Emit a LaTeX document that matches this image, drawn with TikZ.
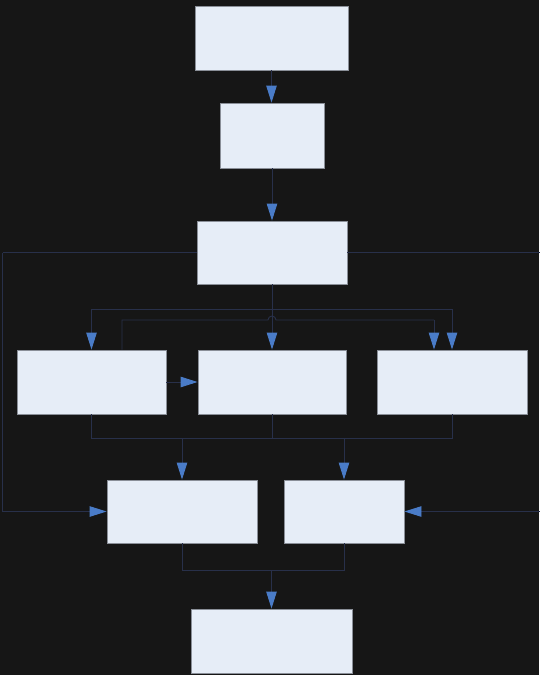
\documentclass[tikz,border=0pt]{standalone}
\usetikzlibrary{arrows.meta}
\definecolor{bg}{HTML}{161616}
\definecolor{boxfill}{HTML}{E6EDF7}
\definecolor{boxline}{HTML}{8A8F98}
\definecolor{wire}{HTML}{28304A}
\definecolor{tipc}{HTML}{4A7CC8}
\tikzset{
  blk/.style={draw=boxline, fill=boxfill, line width=0.9pt, inner sep=0pt},
  conn/.style={draw=wire, line width=0.9pt},
  arr/.style={conn, -{Triangle[length=17pt,width=10.5pt,color=tipc]}}
}
\begin{document}
\begin{tikzpicture}[x=1pt,y=-1pt]
\fill[bg] (0,0) rectangle (539,675);
\useasboundingbox (0,0) rectangle (539,675);
% boxes
\node[blk, minimum width=153pt, minimum height=64pt] (A) at (271.5,38) {};
\node[blk, minimum width=104pt, minimum height=65pt] (B) at (272,135.5) {};
\node[blk, minimum width=150pt, minimum height=63pt] (C) at (272,252.5) {};
\node[blk, minimum width=149pt, minimum height=64pt] (D) at (91.5,382) {};
\node[blk, minimum width=148pt, minimum height=64pt] (E) at (272,382) {};
\node[blk, minimum width=150pt, minimum height=64pt] (F) at (452,382) {};
\node[blk, minimum width=150pt, minimum height=63pt] (G) at (182,511.5) {};
\node[blk, minimum width=120pt, minimum height=63pt] (H) at (344,511.5) {};
\node[blk, minimum width=161pt, minimum height=64pt] (I) at (271.5,641) {};
% coordinates
\coordinate (lx) at (2.5,252.5);
\coordinate (rx) at (540,252.5);
\coordinate (b1) at (272,309);
\coordinate (b1l) at (91.5,309);
\coordinate (b1r) at (452,309);
\coordinate (hopl) at (268,320);
\coordinate (b2r) at (434,320);
\coordinate (b3l) at (91.5,438);
\coordinate (b3r) at (452,438);
\coordinate (b3g) at (182,438);
\coordinate (b3h) at (344,438);
\coordinate (b4l) at (182,570);
\coordinate (b4r) at (344,570);
\coordinate (b4m) at (271.5,570);
% top chain
\draw[arr] (A.south) -- (A.south |- B.north);
\draw[arr] (B.south) -- (B.south |- C.north);
% side feeds
\draw[conn] (C.west) -- (lx);
\draw[arr] (lx) |- (G.west);
\draw[conn] (C.east) -- (rx);
\draw[arr] (rx) |- (H.east);
% fan out from C
\draw[conn] (C.south) -- (b1);
\draw[conn] (b1l) -- (b1r);
\draw[arr] (b1l) -- (D.north);
\draw[arr] (b1) -- (E.north);
\draw[arr] (b1r) -- (F.north);
% D to F
\draw[conn] ([xshift=30.5pt]D.north) |- (hopl) arc[start angle=180,end angle=0,radius=4pt] -- (b2r);
\draw[arr] (b2r) -- (b2r |- F.north);
\draw[arr] (D.east) -- (E.west);
% row 3 merge
\draw[conn] (D.south) -- (b3l) -- (b3r) -- (F.south);
\draw[conn] (E.south) -- (E.south |- b3l);
\draw[arr] (b3g) -- (G.north);
\draw[arr] (b3h) -- (H.north);
% row 4 merge
\draw[conn] (G.south) -- (b4l) -- (b4r) -- (H.south);
\draw[arr] (b4m) -- (I.north);
\end{tikzpicture}
\end{document}
